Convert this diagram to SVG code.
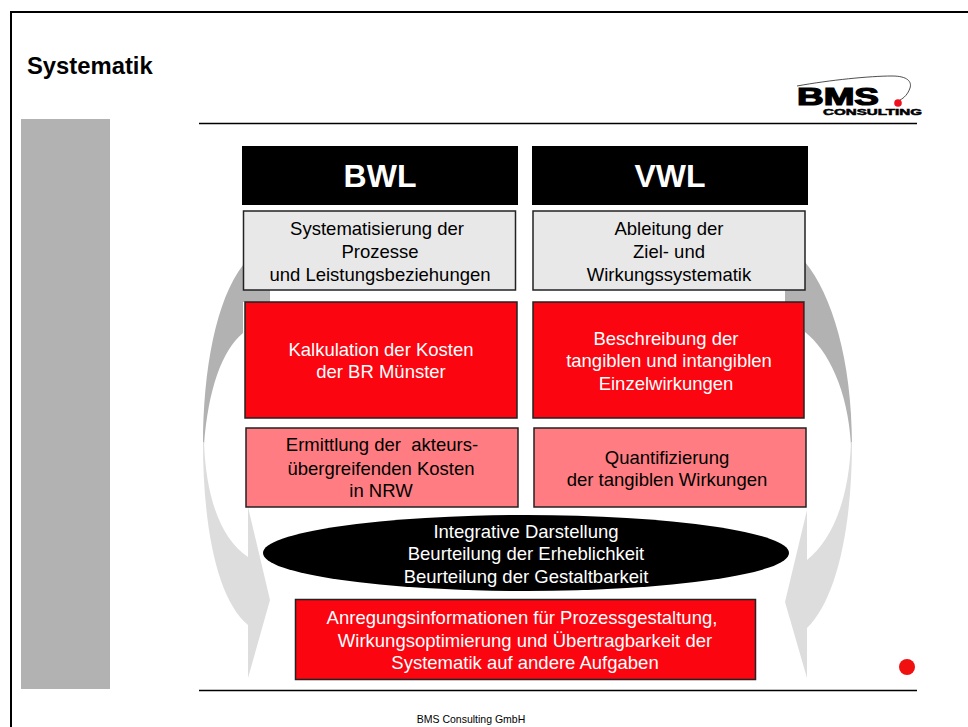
<svg xmlns="http://www.w3.org/2000/svg" width="968" height="727" viewBox="0 0 968 727">
<style>
text{font-family:"Liberation Sans",Arial,sans-serif;text-anchor:middle;white-space:pre}
.t{font-size:18.5px}
.w{fill:#fff}
.k{fill:#000}
.box{stroke:#222;stroke-width:1.5}
.grey{fill:#e8e8e8}
.red{fill:#fa0510}
.pink{fill:#ff7d82}
.head{font-size:32px;font-weight:bold;fill:#fff}
</style>
<rect width="968" height="727" fill="#fff"/>
<path d="M968 12H11V727" fill="none" stroke="#000" stroke-width="2"/>
<text x="27" y="74" style="text-anchor:start;font-size:23.8px;font-weight:bold">Systematik</text>
<rect x="21" y="119" width="89" height="570" fill="#b2b2b2"/>
<path d="M199 123.500H917M199 690.500H917" stroke="#000" stroke-width="1.500" fill="none"/>
<g id="logo">
<path d="M797 86C830 80 870 76 892 76C908 76 912 82 910 88C908 94 904 98 900 100" fill="none" stroke="#222" stroke-width="0.800"/>
<text x="797" y="105" textLength="82" lengthAdjust="spacingAndGlyphs" style="text-anchor:start;font-size:24px;font-weight:bold;stroke:#000;stroke-width:1.200">BMS</text>
<circle cx="898" cy="103" r="3.800" fill="#f01020"/>
<text x="823" y="114.500" textLength="99" lengthAdjust="spacingAndGlyphs" style="text-anchor:start;font-size:9px;font-weight:bold;stroke:#000;stroke-width:0.500">CONSULTING</text>
</g>
<g id="connectors">
<g id="arrow-left">
<path d="M243 265C216 300 203 370 203 445C204 440 204 445 204 445C208 390 222 350 243 333ZM243 270H270V302H243Z" fill="#b2b2b2"/>
<path d="M203 442C203 530 218 600 248 625V678L270 600L248 507V557C222 540 206 500 204 442Z" fill="#dddddd"/>
</g>
<g id="arrow-right">
<path d="M805 262C832 295 852 360 852 445C851 445 851 445 851 445C848 390 828 350 805 332ZM785 270H805V302H785Z" fill="#b2b2b2"/>
<path d="M852 442C852 530 836 600 807 628V678L785 602L807 510V560C832 540 849 500 851 442Z" fill="#dddddd"/>
</g>
</g>
<g id="bwl"><rect x="242" y="146" width="276" height="59" fill="#000"/><text class="head" x="380" y="187">BWL</text></g>
<g id="vwl"><rect x="532" y="146" width="276" height="59" fill="#000"/><text class="head" x="670" y="187">VWL</text></g>
<g id="n1"><rect class="box grey" x="243.500" y="211" width="272" height="79"/>
<text class="t k" x="377" y="235">Systematisierung der</text><text class="t k" x="380" y="258">Prozesse</text><text class="t k" x="380" y="281">und Leistungsbeziehungen</text></g>
<g id="n2"><rect class="box grey" x="533" y="211" width="272" height="79"/>
<text class="t k" x="669" y="235">Ableitung der</text><text class="t k" x="669" y="258">Ziel- und</text><text class="t k" x="669" y="281">Wirkungssystematik</text></g>
<g id="n3"><rect class="box red" x="245" y="302" width="272" height="116"/>
<text class="t w" x="381" y="356">Kalkulation der Kosten</text><text class="t w" x="381" y="378">der BR Münster</text></g>
<g id="n4"><rect class="box red" x="533" y="302" width="271" height="116"/>
<text class="t w" x="666" y="345">Beschreibung der</text><text class="t w" x="669" y="367">tangiblen und intangiblen</text><text class="t w" x="666" y="390">Einzelwirkungen</text></g>
<g id="n5"><rect class="box pink" x="246" y="428" width="272" height="79"/>
<text class="t k" x="382" y="451">Ermittlung der  akteurs-</text><text class="t k" x="381" y="475">übergreifenden Kosten</text><text class="t k" x="381" y="497">in NRW</text></g>
<g id="n6"><rect class="box pink" x="534" y="428" width="272" height="79"/>
<text class="t k" x="667" y="464">Quantifizierung</text><text class="t k" x="667" y="486">der tangiblen Wirkungen</text></g>
<g id="n7"><ellipse cx="526" cy="553" rx="263" ry="38" fill="#000"/>
<text class="t w" x="526" y="538">Integrative Darstellung</text><text class="t w" x="526" y="560">Beurteilung der Erheblichkeit</text><text class="t w" x="526" y="583">Beurteilung der Gestaltbarkeit</text></g>
<g id="n8"><rect class="box red" x="295.500" y="599.500" width="460" height="80"/>
<text class="t w" x="522" y="624">Anregungsinformationen für Prozessgestaltung,</text><text class="t w" x="525" y="647">Wirkungsoptimierung und Übertragbarkeit der</text><text class="t w" x="525" y="669">Systematik auf andere Aufgaben</text></g>
<circle id="dot" cx="907" cy="667" r="8" fill="#f01010"/>
<text x="471" y="723" style="font-size:10.500px">BMS Consulting GmbH</text>
</svg>
